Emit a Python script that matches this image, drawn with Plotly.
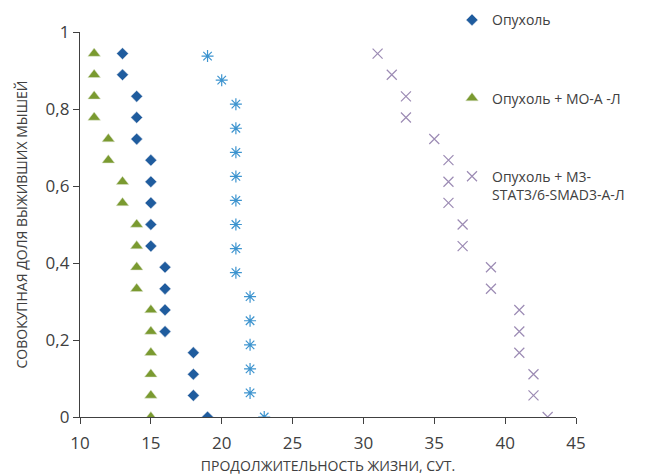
import plotly.graph_objects as go

# Опухоль
x_tumor = [13, 13, 14, 14, 14, 15, 15, 15, 15, 15, 16, 16, 16, 16, 18, 18, 18, 19]
y_tumor = [0.944, 0.889, 0.833, 0.778, 0.722, 0.667, 0.611, 0.556, 0.5, 0.444,
           0.389, 0.333, 0.278, 0.222, 0.167, 0.111, 0.056, 0.0]

# Опухоль + МО-А -Л
x_mo = [11, 11, 11, 11, 12, 12, 13, 13, 14, 14, 14, 14, 15, 15, 15, 15, 15, 15]
y_mo = [0.944, 0.889, 0.833, 0.778, 0.722, 0.667, 0.611, 0.556, 0.5, 0.444,
        0.389, 0.333, 0.278, 0.222, 0.167, 0.111, 0.056, 0.0]

# unnamed series (asterisks)
x_star = [19, 20, 21, 21, 21, 21, 21, 21, 21, 21, 22, 22, 22, 22, 22, 23]
y_star = [0.9375, 0.875, 0.8125, 0.75, 0.6875, 0.625, 0.5625, 0.5, 0.4375, 0.375,
          0.3125, 0.25, 0.1875, 0.125, 0.0625, 0.0]

# Опухоль + М3-STAT3/6-SMAD3-А-Л
x_m3 = [31, 32, 33, 33, 35, 36, 36, 36, 37, 37, 39, 39, 41, 41, 41, 42, 42, 43]
y_m3 = [0.944, 0.889, 0.833, 0.778, 0.722, 0.667, 0.611, 0.556, 0.5, 0.444,
        0.389, 0.333, 0.278, 0.222, 0.167, 0.111, 0.056, 0.0]

names = ["Опухоль", "Опухоль + МО-А -Л", "Опухоль + М3-<br>STAT3/6-SMAD3-А-Л"]
x_ticks = [10, 15, 20, 25, 30, 35, 40, 45]
y_ticks = [0, 0.2, 0.4, 0.6, 0.8, 1]

font = "Open Sans, Noto Sans, sans-serif"
fig = go.Figure()

# white halos behind markers (cover the axis line like the original)
for xs, ys in [(x_tumor, y_tumor), (x_mo, y_mo), (x_star, y_star), (x_m3, y_m3)]:
    fig.add_trace(go.Scatter(x=xs, y=ys, mode="markers", showlegend=False,
                             hoverinfo="skip",
                             marker=dict(symbol="square", size=13, color="white")))

fig.add_trace(go.Scatter(x=x_tumor, y=y_tumor, mode="markers", name=names[0],
                         legendgroup="a",
                         marker=dict(symbol="diamond", size=9, color="#1f5c9e",
                                     line=dict(width=0.5, color="#d8dde6"))))
fig.add_trace(go.Scatter(x=x_mo, y=y_mo, mode="markers", name=names[1],
                         legendgroup="b",
                         marker=dict(symbol="triangle-up", size=11, color="#7a9a30",
                                     line=dict(width=0.5, color="#dfe4d0"))))
fig.add_trace(go.Scatter(x=x_star, y=y_star, mode="markers", name="series4",
                         showlegend=False,
                         marker=dict(symbol="asterisk-open", size=10, color="#3d94cf",
                                     line=dict(width=1.2, color="#3d94cf"))))
fig.add_trace(go.Scatter(x=x_m3, y=y_m3, mode="markers", name=names[2],
                         legendgroup="c",
                         marker=dict(symbol="x-thin-open", size=10, color="#9c8bb4",
                                     line=dict(width=1.2, color="#9c8bb4"))))

axis_common = dict(showgrid=False, zeroline=False, showline=True,
                   linecolor="#404040", linewidth=1.3, ticks="outside",
                   ticklen=6, tickcolor="#404040", tickwidth=1.3,
                   layer="below traces",
                   tickfont=dict(family=font, size=17, color="#404040"))

fig.update_layout(
    width=643, height=467,
    margin=dict(l=72, r=75, t=24, b=58, autoexpand=False),
    paper_bgcolor="white", plot_bgcolor="white",
    separators=", ",
    font=dict(family=font, color="#404040"),
    xaxis=dict(range=[10, 45], tickvals=x_ticks, automargin=False,
               ticklabelstandoff=4,
               title=dict(text="ПРОДОЛЖИТЕЛЬНОСТЬ ЖИЗНИ, СУТ.",
                          font=dict(family=font, size=14, color="#404040"),
                          standoff=11),
               **axis_common),
    yaxis=dict(range=[0, 1], tickvals=y_ticks, automargin=False,
               title=dict(text="СОВОКУПНАЯ ДОЛЯ ВЫЖИВШИХ МЫШЕЙ",
                          font=dict(family=font, size=14, color="#404040"),
                          standoff=14),
               **axis_common),
    legend=dict(x=0.75, y=1.072, xanchor="left", yanchor="top",
                bgcolor="rgba(0,0,0,0)", traceorder="grouped",
                tracegroupgap=57, valign="top",
                font=dict(family=font, size=14, color="#404040")),
)

fig.write_html("out.html")
